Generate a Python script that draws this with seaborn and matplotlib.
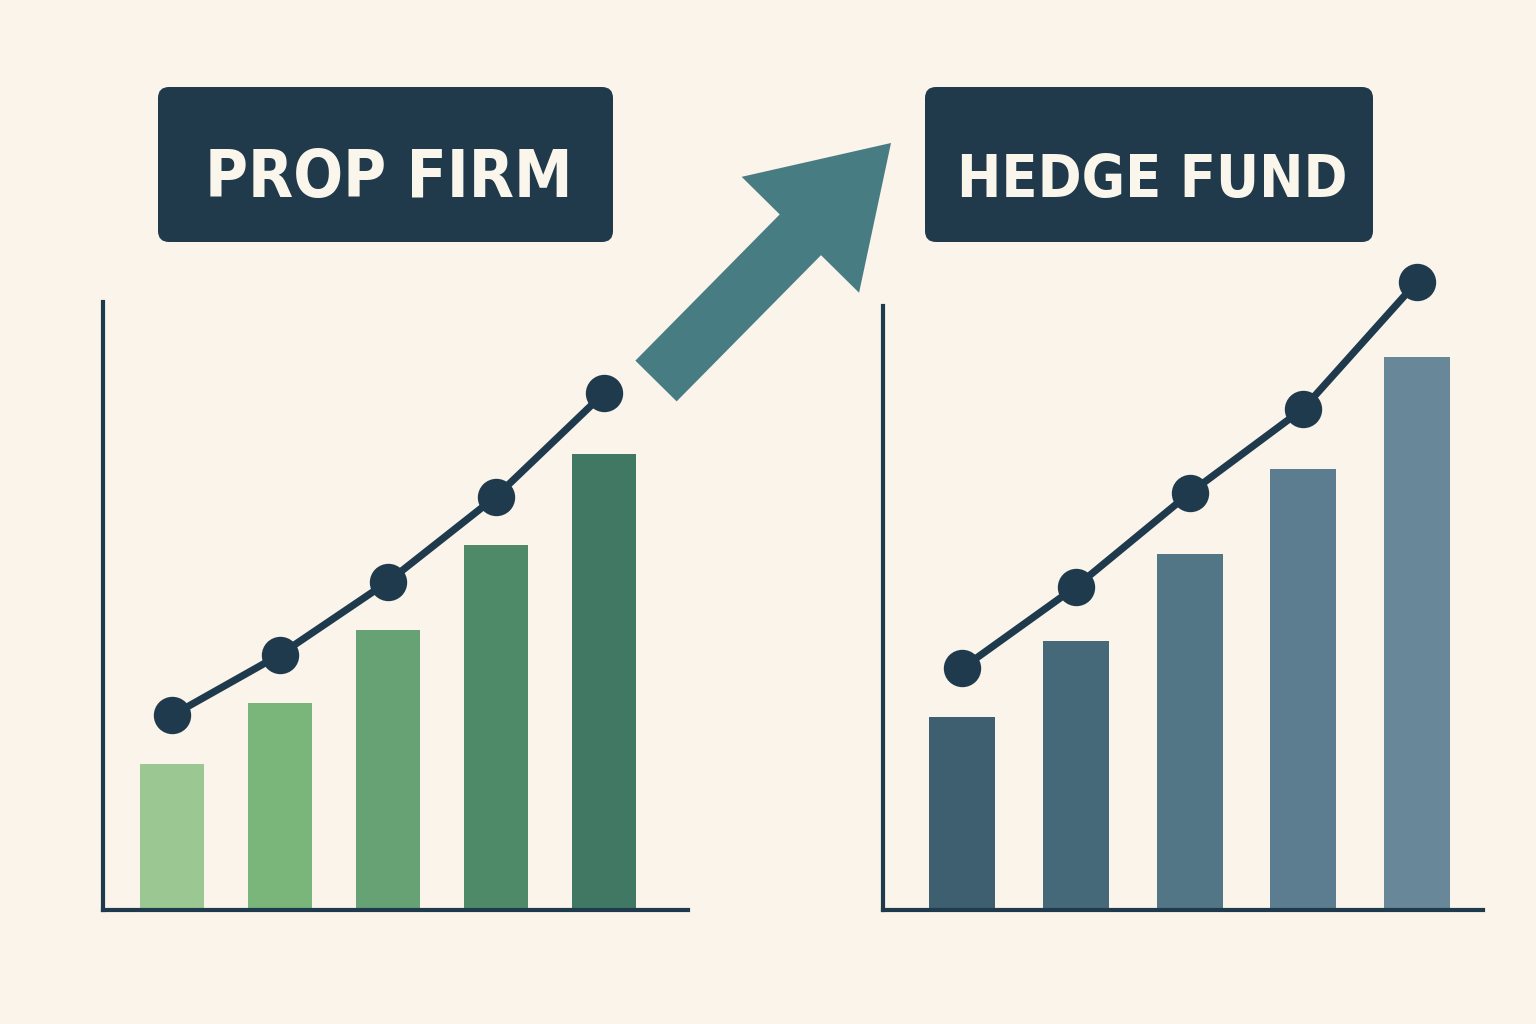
import matplotlib
matplotlib.use("Agg")
import matplotlib.pyplot as plt
import seaborn as sns
import pandas as pd
from matplotlib import font_manager as fm
from matplotlib.textpath import TextPath
from matplotlib.patches import FancyBboxPatch, FancyArrow

# ---- data ----
periods = ["P1", "P2", "P3", "P4", "P5"]
prop_bars = [24, 34, 46, 60, 75]
prop_line = [32, 42, 54, 68, 85]
hedge_bars = [32, 44.5, 59, 73, 91.5]
hedge_line = [40, 53.5, 69, 83, 104]
titles = ["PROP FIRM", "HEDGE FUND"]

prop_colors = ["#9bc892", "#7ab57a", "#66a274", "#4f8a68", "#417864"]
hedge_colors = ["#3e5f70", "#46697a", "#537686", "#5b7d8f", "#688799"]

BG = "#faf4ea"
DARK = "#1f3a4c"
BOX = "#213a4b"
CREAM = "#fbf6ec"
ARROW = "#477c83"
DPI = 100
CAP_PX = 64             # target cap height of the titles
TARGET_W = [368, 390]   # target text widths


def weight_num(f):
    if isinstance(f.weight, int):
        return f.weight
    w = str(f.weight).lower()
    return {"black": 900, "heavy": 900, "extra bold": 800, "ultrabold": 800,
            "bold": 700, "semibold": 600, "demibold": 600}.get(w, 400)


def measure(fp, s):
    tp = TextPath((0, 0), s, size=100, prop=fp)
    ext = tp.get_extents()
    return ext.width * DPI / 72 / 100, ext.height * DPI / 72 / 100


cands = []
for f in fm.fontManager.ttflist:
    nm = f.name.lower()
    fn = f.fname.lower()
    if "oblique" in fn or "italic" in fn or "cjk" in nm or "mono" in nm:
        continue
    if not any(k in nm for k in ("dejavu", "noto sans", "roboto", "open sans",
                                 "liberation", "lato", "inter")):
        continue
    cond = (str(f.stretch) in ("condensed", "semi-condensed", "extra-condensed",
                               "ultra-condensed")
            or "narrow" in nm or "condensed" in nm or "condensed" in fn)
    if cond and 700 <= weight_num(f) <= 800:
        cands.append(f)

best, best_score, best_sizes = None, 1e9, None
for f in cands:
    try:
        fp = fm.FontProperties(fname=f.fname)
        _, cap = measure(fp, "H")
        if cap <= 0:
            continue
        sizes, err, ok = [], 0.0, True
        for t, tw in zip(titles, TARGET_W):
            wpx, _ = measure(fp, t)
            s = min(CAP_PX / cap, tw / wpx)
            if not (0.38 <= s <= 0.75):
                ok = False
            sizes.append(s)
            err += abs(cap * s - CAP_PX)
        if not ok:
            continue
        score = err + (weight_num(f) - 700) / 8
        if score < best_score:
            best, best_score, best_sizes = f, score, sizes
    except Exception:
        continue

if best is not None:
    title_fp = fm.FontProperties(fname=best.fname)
else:
    title_fp = fm.FontProperties(family=["DejaVu Sans"], weight="bold",
                                 stretch="condensed")
    best_sizes = [0.5, 0.46]

fig = plt.figure(figsize=(15.36, 10.24), dpi=DPI, facecolor=BG)
renderer = fig.canvas.get_renderer()

# decoration layer in pixel coordinates
bg = fig.add_axes([0, 0, 1, 1], zorder=0)
bg.set_xlim(0, 1536)
bg.set_ylim(1024, 0)
bg.axis("off")
bg.set_facecolor(BG)

boxes = [(158, 87, 455, 155, 389), (925, 87, 448, 155, 1152)]
for (x0, y0, w, h, tx), title, s, tw in zip(boxes, titles, best_sizes, TARGET_W):
    bg.add_patch(FancyBboxPatch((x0, y0), w, h,
                                boxstyle="round,pad=0,rounding_size=11",
                                facecolor=BOX, edgecolor="none"))
    fp = title_fp.copy()
    fp.set_size(100 * s)
    t = bg.text(tx, 197, title, ha="center", va="baseline",
                fontproperties=fp, color=CREAM)
    # final check against the rendered width
    wpx = t.get_window_extent(renderer=renderer).width
    if wpx > tw:
        fp2 = fp.copy()
        fp2.set_size(100 * s * tw / wpx)
        t.set_fontproperties(fp2)

bg.add_patch(FancyArrow(656, 381, 235, -238, width=58, head_width=165,
                        head_length=129, length_includes_head=True,
                        facecolor=ARROW, edgecolor="none"))


def draw(rect, bars, line, colors, width, xlim):
    ax = fig.add_axes(rect, zorder=2)
    ax.set_facecolor("none")
    df = pd.DataFrame({"period": periods, "bar": bars, "line": line})
    sns.barplot(data=df, x="period", y="bar", hue="period", palette=colors,
                width=width, legend=False, saturation=1, linewidth=0,
                edgecolor="none", ax=ax)
    sns.pointplot(data=df, x="period", y="line", color=DARK, markers="o",
                  markersize=23, linewidth=5.2, errorbar=None, ax=ax)
    for ln in ax.lines:
        ln.set_clip_on(False)
        ln.set_zorder(5)
        ln.set_solid_capstyle("round")
        ln.set_solid_joinstyle("round")
    for c in ax.collections:
        c.set_clip_on(False)
    ax.set_ylim(0, 100)
    ax.set_xlim(*xlim)
    ax.set_xticks([])
    ax.set_yticks([])
    ax.set_xlabel("")
    ax.set_ylabel("")
    for s in ["top", "right"]:
        ax.spines[s].set_visible(False)
    for s in ["left", "bottom"]:
        ax.spines[s].set_linewidth(3)
        ax.spines[s].set_color(DARK)
    return ax


draw([103 / 1536, 114 / 1024, 585 / 1536, 608 / 1024],
     prop_bars, prop_line, prop_colors, 0.6, (-0.639, 4.778))
draw([883 / 1536, 114 / 1024, 600 / 1536, 604 / 1024],
     hedge_bars, hedge_line, hedge_colors, 0.58, (-0.6945, 4.58))

fig.savefig("out.png", dpi=DPI, facecolor=BG)
